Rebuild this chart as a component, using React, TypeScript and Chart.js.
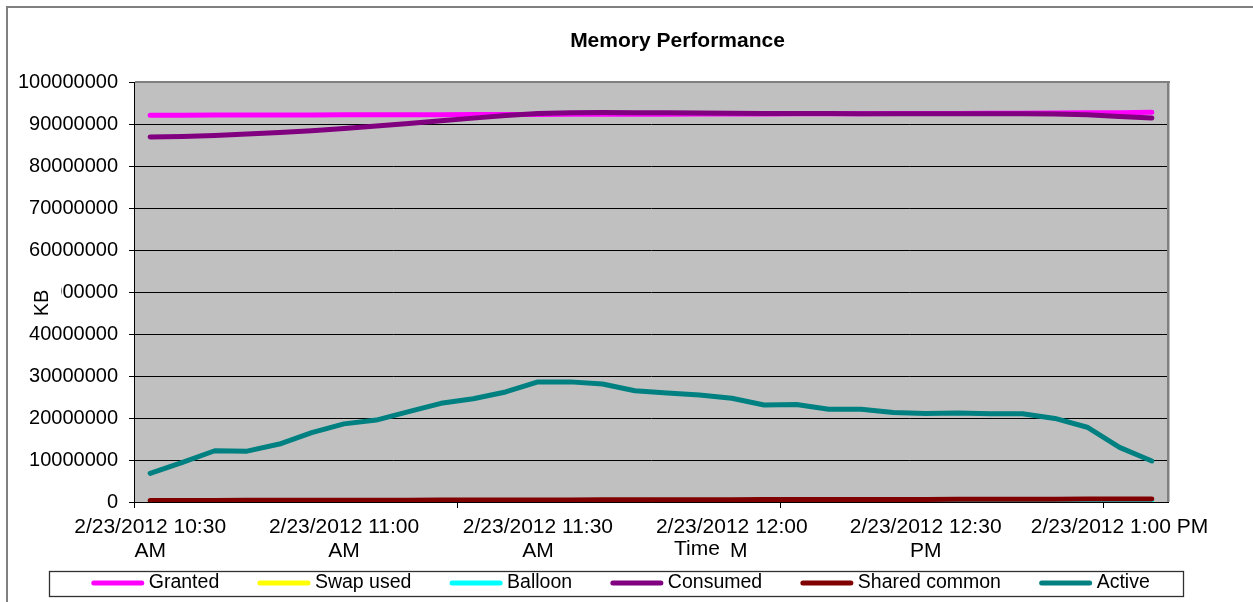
import React, { useEffect, useRef } from 'react';
import { Chart, registerables } from 'chart.js';

Chart.register(...registerables);

const FONT = "'Liberation Sans', Arial, Helvetica, sans-serif";

const chartTitle = 'Memory Performance';
const xAxisTitle = 'Time';
const yAxisTitle = 'KB';

const categories = [
  '2/23/2012 10:30 AM', '2/23/2012 10:35 AM', '2/23/2012 10:40 AM', '2/23/2012 10:45 AM',
  '2/23/2012 10:50 AM', '2/23/2012 10:55 AM', '2/23/2012 11:00 AM', '2/23/2012 11:05 AM',
  '2/23/2012 11:10 AM', '2/23/2012 11:15 AM', '2/23/2012 11:20 AM', '2/23/2012 11:25 AM',
  '2/23/2012 11:30 AM', '2/23/2012 11:35 AM', '2/23/2012 11:40 AM', '2/23/2012 11:45 AM',
  '2/23/2012 11:50 AM', '2/23/2012 11:55 AM', '2/23/2012 12:00 PM', '2/23/2012 12:05 PM',
  '2/23/2012 12:10 PM', '2/23/2012 12:15 PM', '2/23/2012 12:20 PM', '2/23/2012 12:25 PM',
  '2/23/2012 12:30 PM', '2/23/2012 12:35 PM', '2/23/2012 12:40 PM', '2/23/2012 12:45 PM',
  '2/23/2012 12:50 PM', '2/23/2012 12:55 PM', '2/23/2012 1:00 PM', '2/23/2012 1:05 PM',
];

const grantedKB = [
  92100000, 92100000, 92120000, 92130000, 92150000, 92160000, 92180000, 92200000,
  92210000, 92230000, 92250000, 92270000, 92280000, 92300000, 92310000, 92330000,
  92350000, 92360000, 92380000, 92400000, 92420000, 92440000, 92460000, 92480000,
  92500000, 92520000, 92550000, 92580000, 92610000, 92650000, 92700000, 92780000,
];

const swapUsedKB = [
  0, 0, 0, 0, 0, 0, 0, 0,
  0, 0, 0, 0, 0, 0, 0, 0,
  0, 0, 0, 0, 0, 0, 0, 0,
  0, 0, 0, 0, 0, 0, 0, 0,
];

const balloonKB = [
  0, 0, 0, 0, 0, 0, 0, 0,
  0, 0, 0, 0, 0, 0, 0, 0,
  0, 0, 0, 0, 0, 0, 0, 0,
  0, 0, 0, 0, 0, 0, 0, 0,
];

const consumedKB = [
  86900000, 87000000, 87250000, 87600000, 88000000, 88400000, 88950000, 89500000,
  90100000, 90800000, 91400000, 92000000, 92500000, 92700000, 92750000, 92700000,
  92650000, 92600000, 92550000, 92500000, 92500000, 92480000, 92460000, 92450000,
  92450000, 92450000, 92450000, 92450000, 92400000, 92200000, 91800000, 91400000,
];

const sharedCommonKB = [
  350000, 360000, 370000, 390000, 400000, 400000, 420000, 430000,
  440000, 450000, 470000, 480000, 490000, 500000, 510000, 520000,
  530000, 540000, 560000, 570000, 580000, 590000, 600000, 610000,
  620000, 630000, 640000, 660000, 670000, 690000, 700000, 720000,
];

const activeKB = [
  6830000, 9450000, 12200000, 12100000, 13800000, 16500000, 18600000, 19500000,
  21500000, 23500000, 24600000, 26200000, 28600000, 28600000, 28100000, 26500000,
  25950000, 25450000, 24700000, 23100000, 23200000, 22100000, 22100000, 21300000,
  21100000, 21200000, 21000000, 21000000, 19900000, 17800000, 13000000, 9760000,
];

const yTickValues = [0, 10000000, 20000000, 30000000, 40000000, 50000000, 60000000, 70000000, 80000000, 90000000, 100000000];

const LABEL_EVERY = 6;
const TICKMARK_EVERY = 10;

const W = 1400;
const H = 602;

const decorPlugin = {
  id: 'decor',
  beforeDraw(chart: any) {
    const { ctx, chartArea: a } = chart;
    ctx.save();
    ctx.fillStyle = '#C0C0C0';
    ctx.fillRect(a.left, a.top, a.right - a.left, a.bottom - a.top);
    ctx.fillStyle = '#808080';
    ctx.fillRect(6, 6, chart.width - 12, 2);
    ctx.fillRect(6, 6, 2, chart.height);
    ctx.fillRect(chart.width - 8, 6, 2, chart.height);
    ctx.restore();
  },
  beforeDatasetsDraw(chart: any) {
    const { ctx, chartArea: a } = chart;
    ctx.save();
    ctx.fillStyle = '#808080';
    ctx.fillRect(a.left + 1, a.top - 1, a.right - a.left + 1, 2);
    ctx.fillRect(a.right - 1, a.top - 1, 2.5, a.bottom - a.top + 1);
    ctx.restore();
  },
  afterDraw(chart: any) {
    const { ctx } = chart;
    const xs = chart.scales.x;
    const ys = chart.scales.y;
    // y title box (covers part of a tick label, as in the original)
    ctx.save();
    ctx.fillStyle = '#FFFFFF';
    ctx.fillRect(26, 279, 35, 43);
    ctx.translate(0, 11);
    ys.drawTitle();
    ctx.restore();
    // x title box
    ctx.save();
    ctx.fillStyle = '#FFFFFF';
    ctx.fillRect(620, 537, 111, 29);
    ctx.translate(46, 0);
    xs.drawTitle();
    ctx.restore();

    // legend
    const datasets = chart.data.datasets;
    const BOX = 53;
    const GAP = 4.5;
    const SPACE = 38.2;
    const cy = 583;
    ctx.save();
    ctx.font = `19.5px ${FONT}`;
    const widths = datasets.map((d: any) => ctx.measureText(d.label).width);
    let total = 0;
    widths.forEach((w: number, i: number) => {
      total += BOX + GAP + w + (i > 0 ? SPACE : 0);
    });
    const start = 620.5 - total / 2;
    let x = start;
    datasets.forEach((d: any, i: number) => {
      ctx.strokeStyle = d.borderColor;
      ctx.lineWidth = 5;
      ctx.lineCap = 'round';
      ctx.beginPath();
      ctx.moveTo(x + 2.5, cy);
      ctx.lineTo(x + BOX - 2.5, cy);
      ctx.stroke();
      ctx.fillStyle = '#000000';
      ctx.textBaseline = 'middle';
      ctx.textAlign = 'left';
      ctx.fillText(d.label, x + BOX + GAP, cy - 0.5);
      x += BOX + GAP + widths[i] + SPACE;
    });
    const end = x - SPACE;
    const left = Math.round(start - 42) + 0.5;
    const right = Math.round(end + 33) + 0.5;
    ctx.strokeStyle = '#303030';
    ctx.lineWidth = 1.3;
    ctx.strokeRect(left, 571.5, right - left, 25);
    ctx.restore();
  },
};

function line(label: string, data: number[], color: string, order: number) {
  return {
    label,
    data,
    borderColor: color,
    backgroundColor: color,
    borderWidth: 5,
    pointRadius: 0,
    pointHoverRadius: 0,
    tension: 0,
    fill: false,
    order,
    borderCapStyle: 'round',
    borderJoinStyle: 'round',
  };
}

export default function App() {
  const ref = useRef<HTMLCanvasElement | null>(null);

  useEffect(() => {
    if (!ref.current) return;
    Chart.defaults.font.family = FONT;
    Chart.defaults.color = '#000000';
    const chart = new Chart(ref.current, {
      type: 'line',
      data: {
        labels: categories,
        datasets: [
          line('Granted', grantedKB, '#FF00FF', 6),
          line('Swap used', swapUsedKB, '#FFFF00', 5),
          line('Balloon', balloonKB, '#00FFFF', 4),
          line('Consumed', consumedKB, '#800080', 3),
          line('Shared common', sharedCommonKB, '#800000', 2),
          line('Active', activeKB, '#008080', 1),
        ] as any,
      },
      options: {
        responsive: false,
        maintainAspectRatio: false,
        animation: false,
        devicePixelRatio: 1,
        events: [],
        layout: { padding: { left: 0, right: 45, top: 0, bottom: 34 } },
        plugins: {
          title: {
            display: true,
            text: chartTitle,
            color: '#000000',
            font: { family: FONT, size: 21, weight: 'bold', lineHeight: 1.2 },
            padding: { top: 28.4, bottom: 28.4 },
          },
          legend: { display: false },
          tooltip: { enabled: false },
        },
        scales: {
          x: {
            type: 'category',
            offset: true,
            grid: {
              offset: true,
              drawOnChartArea: false,
              drawTicks: true,
              tickLength: 6,
              color: (c: any) =>
                c.index !== undefined && c.index % TICKMARK_EVERY === 0 ? '#000000' : 'rgba(0,0,0,0)',
            },
            border: { display: true, color: '#000000', width: 1 },
            ticks: {
              autoSkip: false,
              maxRotation: 0,
              minRotation: 0,
              padding: 7,
              color: '#000000',
              font: { family: FONT, size: 21, lineHeight: 1.15 },
              callback: (_v: any, index: number) => {
                if (index % LABEL_EVERY !== 0) return '';
                const s = categories[index];
                if (s.length <= 17) return s;
                const k = s.lastIndexOf(' ');
                return [s.slice(0, k), s.slice(k + 1)];
              },
            },
            title: {
              display: true,
              text: xAxisTitle,
              color: '#000000',
              font: { family: FONT, size: 21, lineHeight: 1.2 },
              padding: { top: 0, bottom: 6.4 },
            },
            afterFit: (s: any) => {
              s.height = 66;
            },
          },
          y: {
            type: 'linear',
            position: 'left',
            min: yTickValues[0],
            max: yTickValues[yTickValues.length - 1],
            afterBuildTicks: (s: any) => {
              s.ticks = yTickValues.map((v) => ({ value: v }));
            },
            grid: {
              color: '#000000',
              lineWidth: 1,
              drawTicks: true,
              tickLength: 5,
            },
            border: { display: true, color: '#000000', width: 1 },
            ticks: {
              padding: 11,
              color: '#000000',
              font: { family: FONT, size: 20 },
              callback: (v: any) => String(v),
            },
            title: {
              display: true,
              text: yAxisTitle,
              color: '#000000',
              font: { family: FONT, size: 20, lineHeight: 1.2 },
              padding: { top: 30, bottom: 0 },
            },
            afterFit: (s: any) => {
              s.width = 134;
            },
          },
          y2: {
            type: 'linear',
            position: 'right',
            display: true,
            grid: { display: false, drawTicks: false },
            border: { display: false },
            ticks: { display: false },
            title: { display: false },
            afterFit: (s: any) => {
              s.width = 187;
            },
          },
        },
      } as any,
      plugins: [decorPlugin],
    });
    return () => chart.destroy();
  }, []);

  return (
    <div style={{ position: 'absolute', left: 0, top: 0, width: 1253, height: H, overflow: 'hidden', background: '#FFFFFF' }}>
      <canvas ref={ref} width={W} height={H} style={{ display: 'block', width: W, height: H }} />
    </div>
  );
}
